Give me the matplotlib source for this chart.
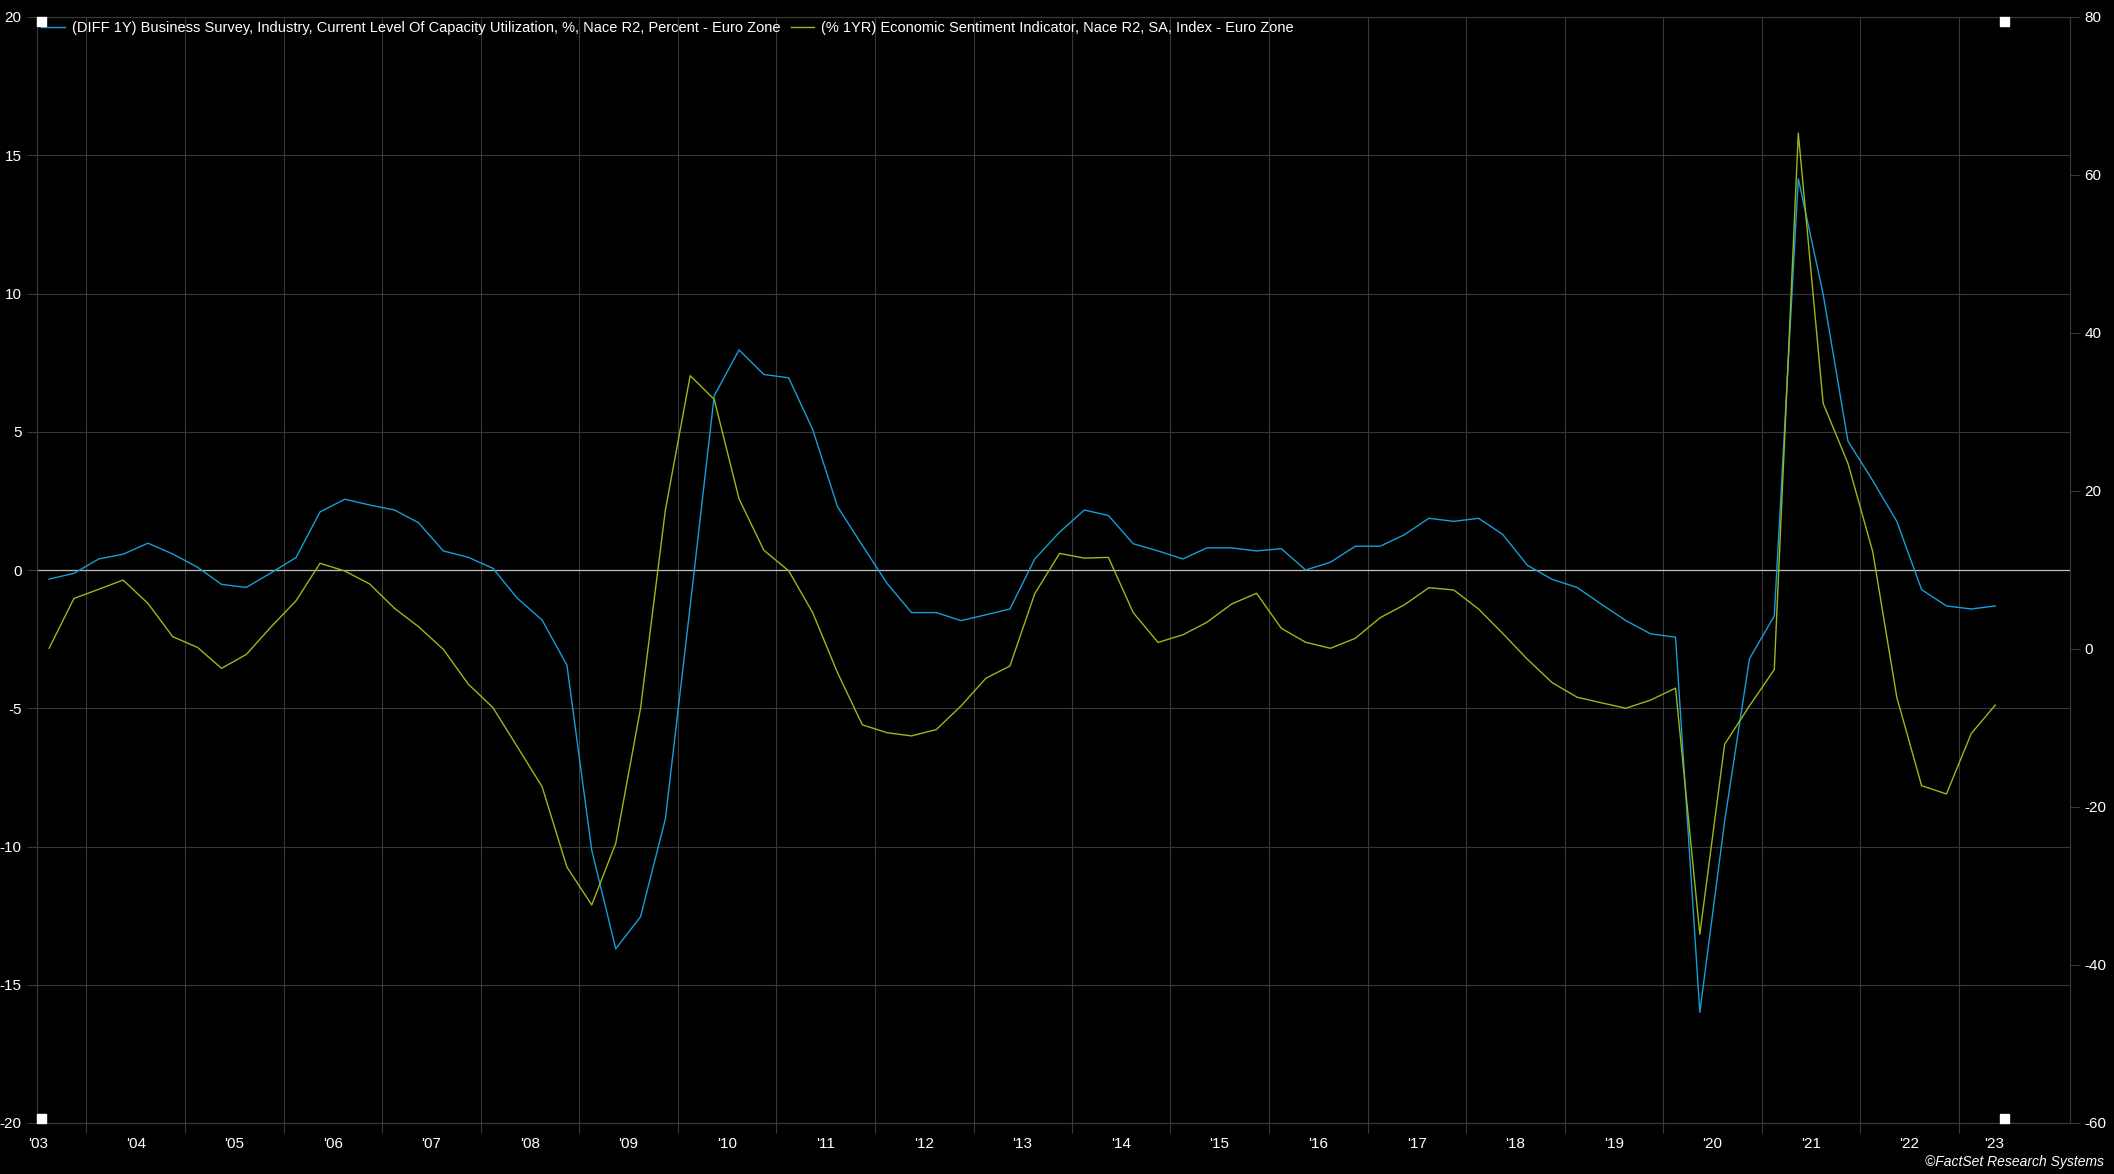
import numpy as np
import pandas as pd
import matplotlib
matplotlib.use("Agg")
import matplotlib.pyplot as plt
from matplotlib.patches import Rectangle

plt.rcParams['font.family'] = ['Liberation Sans', 'DejaVu Sans']

# quarterly observations, Aug 2003 .. May 2023
dates = pd.date_range('2003-08-16', periods=80, freq=pd.DateOffset(months=3))

# (DIFF 1Y) capacity utilization, left axis
capacity = [-0.33, -0.12, 0.4, 0.57, 0.97, 0.58, 0.1, -0.52, -0.63, -0.1,
            0.45, 2.1, 2.56, 2.35, 2.17, 1.71, 0.69, 0.46, 0.06, -1.02,
            -1.81, -3.44, -10.13, -13.7, -12.54, -9.0, -1.3, 6.3, 7.96, 7.07,
            6.95, 5.08, 2.29, 0.89, -0.49, -1.54, -1.54, -1.83, -1.62, -1.41,
            0.4, 1.37, 2.17, 1.97, 0.95, 0.69, 0.4, 0.8, 0.8, 0.69,
            0.77, 0.0, 0.28, 0.86, 0.86, 1.27, 1.87, 1.76, 1.87, 1.29,
            0.17, -0.34, -0.63, -1.23, -1.83, -2.31, -2.43, -16.0, -9.08, -3.21,
            -1.66, 14.15, 9.98, 4.66, 3.23, 1.76, -0.71, -1.3, -1.41, -1.3]

# (% 1YR) economic sentiment, right axis
sentiment = [0.1, 6.4, 7.56, 8.73, 5.78, 1.56, 0.2, -2.45, -0.68, 2.82,
             6.1, 10.85, 9.87, 8.23, 5.15, 2.82, -0.04, -4.43, -7.43, -12.36,
             -17.43, -27.6, -32.4, -24.6, -7.5, 17.6, 34.6, 31.6, 19.0, 12.5,
             9.9, 4.6, -3.0, -9.6, -10.6, -11.0, -10.2, -7.2, -3.7, -2.15,
             7.0, 12.1, 11.5, 11.6, 4.6, 0.83, 1.8, 3.38, 5.7, 7.05,
             2.62, 0.85, 0.09, 1.35, 3.96, 5.57, 7.76, 7.47, 5.06, 1.99,
             -1.3, -4.27, -6.1, -6.8, -7.5, -6.46, -4.95, -36.1, -12.05, -7.2,
             -2.6, 65.3, 31.1, 23.5, 12.3, -6.1, -17.3, -18.35, -10.7, -7.1]

label_capacity = ('(DIFF 1Y) Business Survey, Industry, Current Level Of Capacity '
                  'Utilization, %, Nace R2, Percent - Euro Zone')
label_sentiment = '(% 1YR) Economic Sentiment Indicator, Nace R2, SA, Index - Euro Zone'

year_lines = pd.date_range('2004-01-01', '2023-01-01', freq='YS')
year_labels = ["'%02d" % (y % 100) for y in range(2003, 2024)]
label_pos = ([pd.Timestamp('2003-07-06')]
             + [pd.Timestamp('%d-07-02' % y) for y in range(2004, 2023)]
             + [pd.Timestamp('2023-05-12')])

left_ticks = [-20, -15, -10, -5, 0, 5, 10, 15, 20]
right_ticks = [-60, -40, -20, 0, 20, 40, 60, 80]

BLUE = '#149fd8'
GREEN = '#9ab81a'
GRID = '#383838'

W, H = 2114, 1174
fig = plt.figure(figsize=(W / 100, H / 100), dpi=100, facecolor='black')
ax = fig.add_axes([37 / W, (H - 1123) / H, (2070 - 37) / W, (1123 - 17) / H])
ax.set_facecolor('black')
ax2 = ax.twinx()

l1, = ax.plot(dates, capacity, color=BLUE, lw=1.0, zorder=3)
l2, = ax2.plot(dates, sentiment, color=GREEN, lw=1.0, zorder=3)
ax.axhline(0, color='#bdbdbd', lw=0.9, zorder=2)

ax.set_xlim(pd.Timestamp('2003-07-02'), pd.Timestamp('2024-02-17'))
ax.set_ylim(-20, 20)
ax2.set_ylim(-60, 80)

ax.set_yticks(left_ticks)
ax.set_yticklabels([str(t) for t in left_ticks])
ax2.set_yticks(right_ticks)
ax2.set_yticklabels([str(t) for t in right_ticks])

ax.set_xticks(year_lines)
ax.set_xticklabels([])
ax.set_xticks(label_pos, minor=True)
ax.set_xticklabels(year_labels, minor=True)

ax.grid(True, which='major', color=GRID, lw=0.8, zorder=0)
ax.set_axisbelow(True)

ax.tick_params(axis='x', which='major', length=7.5, color=GRID, width=0.8)
ax.tick_params(axis='x', which='minor', length=0, pad=10, labelcolor='white', labelsize=11)
ax.tick_params(axis='y', length=7.5, color=GRID, width=0.8, pad=3.5,
               labelcolor='white', labelsize=11)
ax2.tick_params(axis='y', length=7.5, color=GRID, width=0.8, pad=3,
                labelcolor='white', labelsize=11)

for a in (ax, ax2):
    for s in a.spines.values():
        s.set_color(GRID)
        s.set_linewidth(0.8)

leg = ax2.legend([l1, l2], [label_capacity, label_sentiment], loc='upper left',
                 bbox_to_anchor=(0, 1), ncol=2, frameon=False, fontsize=10.5,
                 labelcolor='white', handlelength=1.6, handletextpad=0.5,
                 columnspacing=0.7, borderaxespad=0.0, borderpad=0.3)

# FactSet range markers
for (x0, y0) in [(37, 17), (37, 1114), (2000, 17), (2000, 1114)]:
    fig.patches.append(Rectangle((x0 / W, (H - y0 - 9) / H), 9 / W, 9 / H,
                                 transform=fig.transFigure, color='white', zorder=10))

fig.text(2104 / W, (H - 1162) / H, '\u00a9FactSet Research Systems', ha='right',
         va='center', color='white', fontsize=10, style='italic')

fig.savefig('out.png', dpi=100, facecolor='black')
